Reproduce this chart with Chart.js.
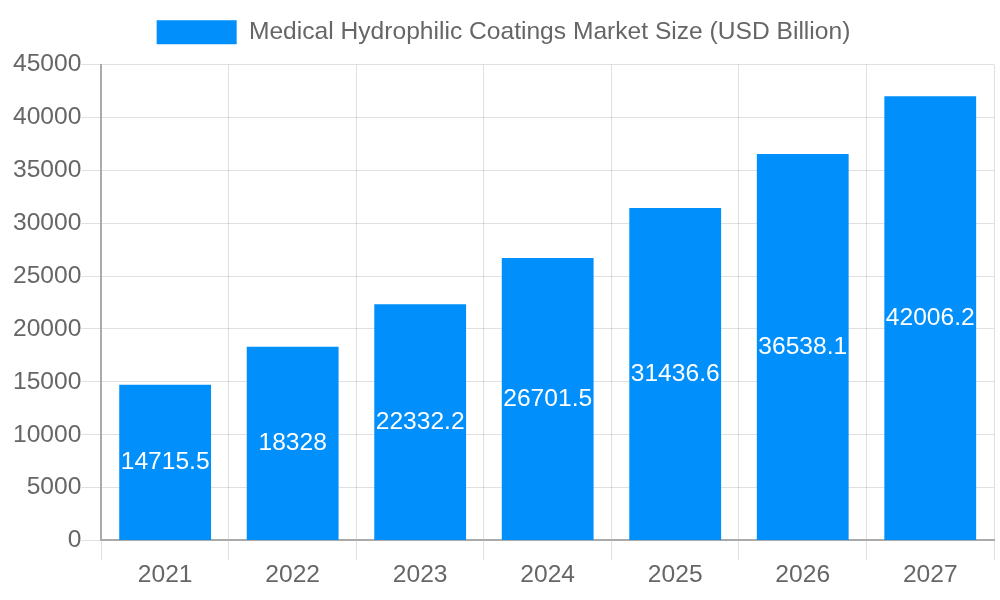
<!DOCTYPE html>
<html>
<head>
<meta charset="utf-8">
<script src="https://cdn.jsdelivr.net/npm/chart.js@4"></script>
<style>
html,body{margin:0;padding:0;background:#fff;}
#wrap{width:1000px;height:600px;position:relative;}
</style>
</head>
<body>
<div id="wrap"><canvas id="c"></canvas></div>
<script>
const years = ['2021','2022','2023','2024','2025','2026','2027'];
const marketSize = [14715.5, 18328, 22332.2, 26701.5, 31436.6, 36538.1, 42006.2];
const seriesLabel = 'Medical Hydrophilic Coatings Market Size (USD Billion)';
const yTicks = [0, 5000, 10000, 15000, 20000, 25000, 30000, 35000, 40000, 45000];

const FS = 24.6;

const centerLabels = {
  id: 'centerLabels',
  afterDatasetsDraw(chart) {
    const ctx = chart.ctx;
    const meta = chart.getDatasetMeta(0);
    ctx.save();
    ctx.fillStyle = '#ffffff';
    ctx.font = FS + 'px "Liberation Sans", Arial, sans-serif';
    ctx.textAlign = 'center';
    ctx.textBaseline = 'middle';
    meta.data.forEach((bar, i) => {
      const y = (bar.y + bar.base) / 2;
      ctx.fillText(String(chart.data.datasets[0].data[i]), bar.x, y);
    });
    ctx.restore();
  }
};

const legendGap = {
  id: 'legendGap',
  beforeInit(chart) {
    const orig = chart.legend.fit;
    chart.legend.fit = function () {
      orig.call(this);
      this.height += 10;
    };
  }
};

Chart.defaults.font.family = '"Liberation Sans", Arial, sans-serif';
Chart.defaults.color = '#666666';

new Chart(document.getElementById('c'), {
  type: 'bar',
  data: {
    labels: years,
    datasets: [{
      label: seriesLabel,
      data: marketSize,
      backgroundColor: '#008ffb',
      borderWidth: 0
    }]
  },
  options: {
    responsive: true,
    maintainAspectRatio: false,
    animation: false,
    devicePixelRatio: 1,
    layout: { padding: { left: 13, right: 6, top: 0, bottom: 10 } },
    plugins: {
      legend: {
        labels: { font: { size: FS }, boxWidth: 80, boxHeight: 24, padding: 20 }
      },
      tooltip: { enabled: false }
    },
    scales: {
      x: {
        ticks: { font: { size: FS }, padding: 0 },
        grid: { color: 'rgba(0,0,0,0.12)', tickLength: 20 },
        border: { color: '#aaaaaa', width: 2 }
      },
      y: {
        min: 0,
        max: 45000,
        afterBuildTicks(axis) { axis.ticks = yTicks.map(v => ({ value: v })); },
        ticks: { font: { size: FS }, padding: 0, callback: v => String(v) },
        grid: { color: 'rgba(0,0,0,0.12)', tickLength: 20 },
        border: { color: '#aaaaaa', width: 2 }
      }
    }
  },
  plugins: [centerLabels, legendGap]
});
</script>
</body>
</html>
